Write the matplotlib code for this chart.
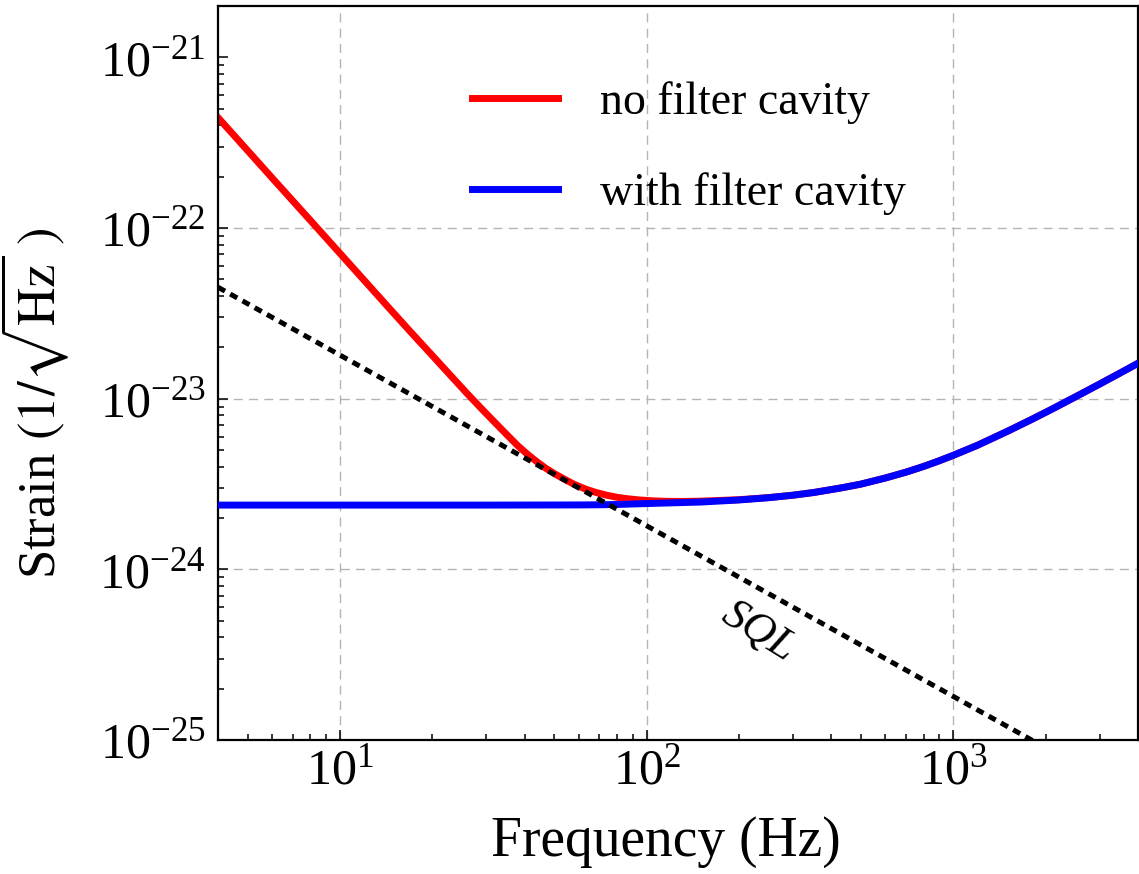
import matplotlib
matplotlib.use("Agg")
import matplotlib.pyplot as plt
from matplotlib.ticker import LogLocator, NullFormatter, FixedLocator

plt.rcParams['font.family'] = ['Liberation Serif', 'DejaVu Serif']
plt.rcParams['mathtext.fontset'] = 'stix'

# strain curves (Hz, 1/sqrt(Hz))
freq_red = [4, 5, 6, 8, 10, 12, 14, 17, 20, 23, 26, 29, 32, 35, 38, 41, 44, 47, 50, 54,
            58, 63, 68, 74, 80, 87, 95, 105, 115, 130, 150, 200, 250, 300, 350, 430,
            500, 600, 700, 800, 900, 1000, 1200, 1500, 1800, 2100, 2500, 3000, 3500, 4000]
strain_red = [4.44e-22, 2.84e-22, 1.97e-22, 1.11e-22, 7.1e-23, 4.93e-23, 3.62e-23, 2.46e-23,
              1.79e-23, 1.36e-23, 1.07e-23, 8.7e-24, 7.25e-24, 6.15e-24, 5.3e-24, 4.7e-24,
              4.25e-24, 3.9e-24, 3.64e-24, 3.37e-24, 3.15e-24, 2.96e-24, 2.83e-24, 2.72e-24,
              2.645e-24, 2.59e-24, 2.55e-24, 2.52e-24, 2.505e-24, 2.5e-24, 2.51e-24, 2.56e-24,
              2.635e-24, 2.72e-24, 2.82e-24, 3.0e-24, 3.16e-24, 3.43e-24, 3.71e-24, 4.01e-24,
              4.33e-24, 4.66e-24, 5.34e-24, 6.44e-24, 7.56e-24, 8.7e-24, 1.025e-23, 1.219e-23,
              1.415e-23, 1.612e-23]

freq_blue = [4, 10, 30, 60, 70, 80, 100, 150, 200, 250, 300, 350, 430, 500, 600, 700, 800,
             900, 1000, 1200, 1500, 1800, 2100, 2500, 3000, 3500, 4000]
strain_blue = [2.38e-24, 2.38e-24, 2.38e-24, 2.385e-24, 2.39e-24, 2.40e-24, 2.43e-24, 2.48e-24,
               2.55e-24, 2.63e-24, 2.72e-24, 2.82e-24, 3.0e-24, 3.16e-24, 3.43e-24, 3.71e-24,
               4.01e-24, 4.33e-24, 4.66e-24, 5.34e-24, 6.44e-24, 7.56e-24, 8.7e-24, 1.025e-23,
               1.219e-23, 1.415e-23, 1.612e-23]

freq_sql = [4, 4000]
strain_sql = [4.5e-23, 4.5e-26]

x_ticks = [10, 100, 1000]
y_ticks = [1e-25, 1e-24, 1e-23, 1e-22, 1e-21]
grid_x = [10, 100, 1000]
grid_y = [1e-22, 1e-23, 1e-24]

fig = plt.figure(figsize=(11.39, 8.74), dpi=100)
ax = fig.add_axes([0.1914, 0.1533, 0.8077, 0.8398])

for gx in grid_x:
    ax.axvline(gx, color='#b4b4b4', lw=1.0, ls=(0, (6.5, 4.5)), zorder=0)
for gy in grid_y:
    ax.axhline(gy, color='#b4b4b4', lw=1.0, ls=(0, (6.5, 4.5)), zorder=0)

ax.plot(freq_red, strain_red, color='red', lw=5, label='no filter cavity', zorder=2)
ax.plot(freq_blue, strain_blue, color='blue', lw=5, label='with filter cavity', zorder=3)
ax.plot(freq_sql, strain_sql, color='black', lw=3.6, ls=(0, (1.6, 1.2)), zorder=4)

ax.set_xscale('log')
ax.set_yscale('log')
ax.set_xlim(4, 4000)
ax.set_ylim(1e-25, 2e-21)

ax.xaxis.set_major_locator(FixedLocator(x_ticks))
ax.xaxis.set_minor_locator(LogLocator(base=10, subs=range(2, 10), numticks=20))
ax.xaxis.set_minor_formatter(NullFormatter())
ax.yaxis.set_major_locator(FixedLocator(y_ticks))
ax.yaxis.set_minor_locator(LogLocator(base=10, subs=range(2, 10), numticks=20))
ax.yaxis.set_minor_formatter(NullFormatter())

ax.tick_params(which='both', direction='in', top=False, right=False, width=1.1)
ax.tick_params(which='major', length=7.5, labelsize=36)
ax.tick_params(which='minor', length=4)
ax.tick_params(axis='y', which='major', pad=9)
ax.tick_params(axis='x', which='major', pad=6)
for sp in ax.spines.values():
    sp.set_linewidth(1.6)

ax.set_xlabel('Frequency (Hz)', fontsize=40)
ax.set_ylabel(r'Strain $(1/\sqrt{\mathrm{Hz}}\ )$', fontsize=38)
ax.xaxis.set_label_coords(0.487, -0.103)
ax.yaxis.set_label_coords(-0.16, 0.458)

ax.text(232, 4.3e-25, 'SQL', fontsize=32, style='italic', rotation=-32,
        ha='center', va='center')

ax.legend(loc='upper left', bbox_to_anchor=(0.276, 0.897), frameon=False, fontsize=33,
          handlelength=1.88, handletextpad=0.92, labelspacing=1.05,
          borderpad=0, borderaxespad=0)

fig.savefig('out.png', dpi=100)
